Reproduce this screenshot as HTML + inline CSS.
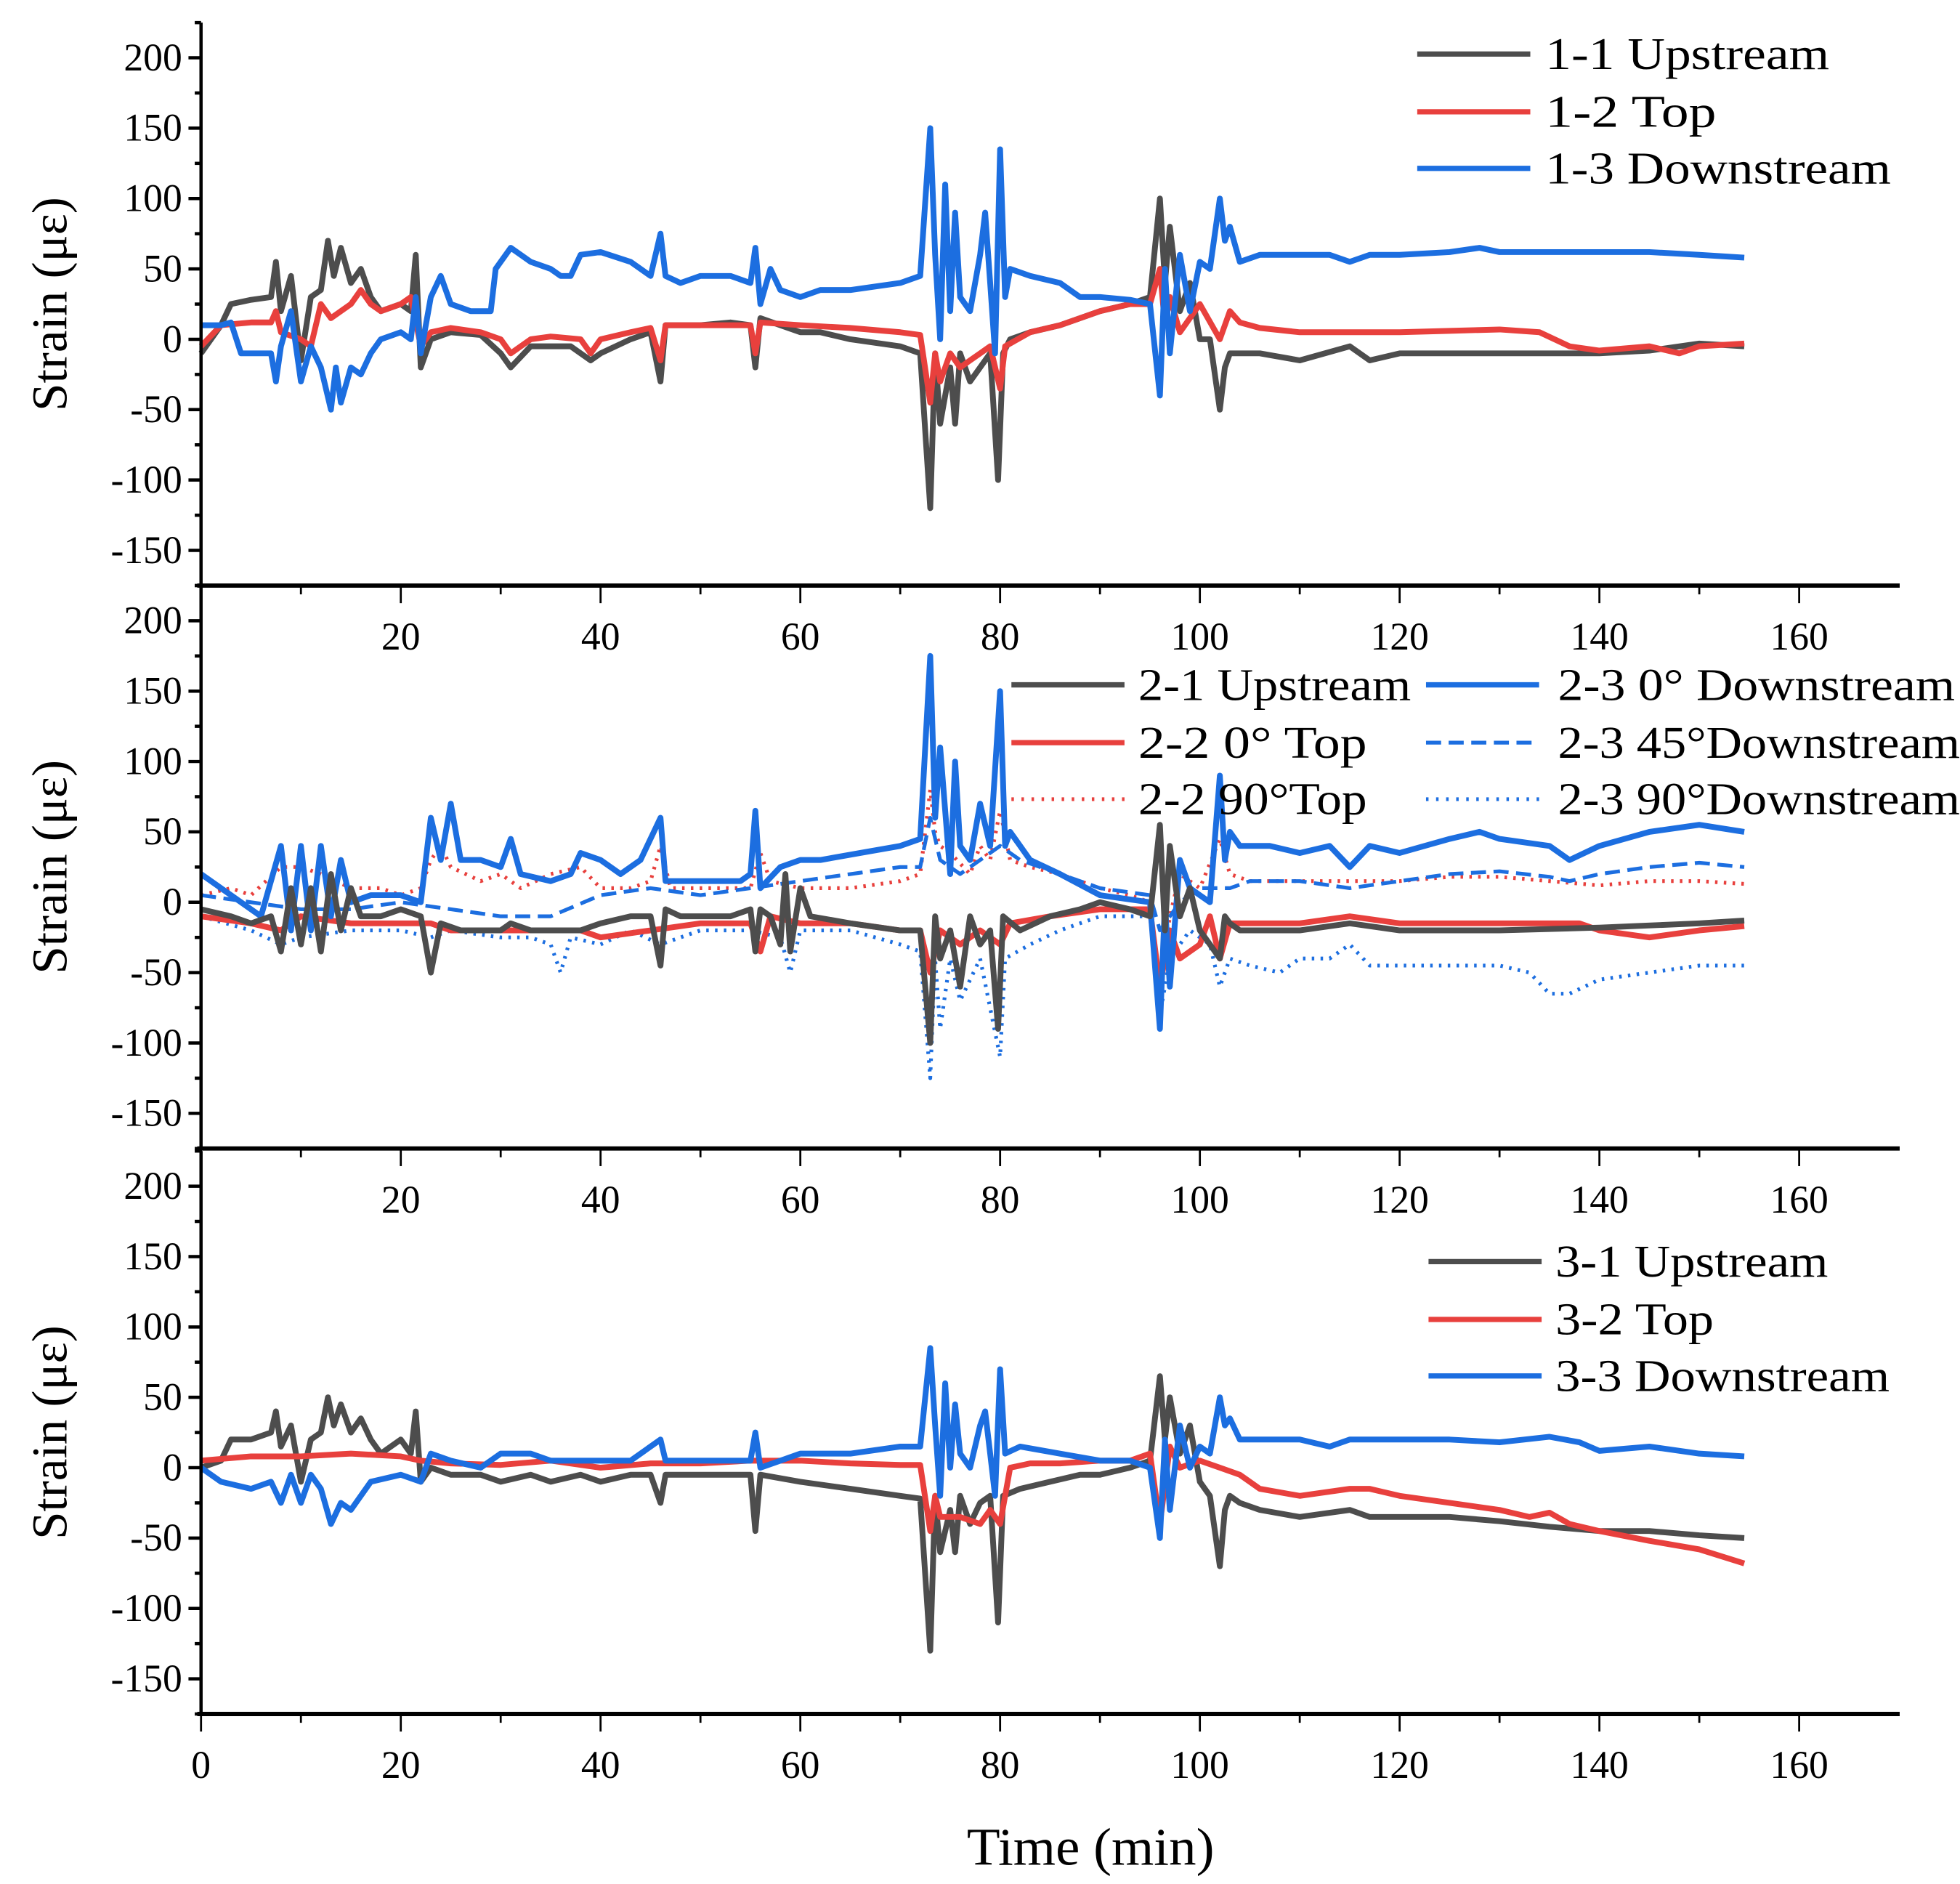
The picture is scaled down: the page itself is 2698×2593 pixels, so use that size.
<!DOCTYPE html>
<html><head><meta charset="utf-8"><style>
html,body{margin:0;padding:0;background:#fff}
svg{display:block}
text{font-family:"Liberation Serif","DejaVu Serif",serif;fill:#000}
</style></head><body>
<svg id="chart" width="2698" height="2593" viewBox="0 0 1560 1499.3" xmlns="http://www.w3.org/2000/svg"></svg>
<script>
const xTicks=[0,20,40,60,80,100,120,140,160];
const yTicks=[-150,-100,-50,0,50,100,150,200];
const s11=[[0,-10],[2,10],[3,25],[5,28],[7,30],[7.5,55],[8,20],[9,45],[10,-15],[11,30],[12,35],[12.7,70],[13.3,45],[14,65],[15,40],[16,50],[17,30],[18,20],[20,25],[21,20],[21.5,60],[22,-20],[23,0],[25,5],[28,3],[30,-10],[31,-20],[33,-5],[35,-5],[37,-5],[39,-15],[40,-10],[43,0],[45,5],[46,-30],[46.5,10],[50,10],[53,12],[55,10],[55.5,-20],[56,15],[58,10],[60,5],[62,5],[65,0],[70,-5],[72,-10],[73,-120],[73.5,-10],[74,-60],[75,-20],[75.5,-60],[76,-10],[77,-30],[78,-20],[79,-10],[79.8,-100],[80.3,-10],[81,0],[83,5],[86,10],[90,20],[93,25],[95,30],[96,100],[96.5,40],[97,80],[98,20],[99,40],[100,0],[101,0],[102,-50],[102.5,-20],[103,-10],[104,-10],[106,-10],[110,-15],[115,-5],[117,-15],[120,-10],[125,-10],[130,-10],[135,-10],[140,-10],[145,-8],[150,-3],[154.5,-5]];
const s12=[[0,-5],[2,10],[5,12],[7,12],[7.5,20],[8,5],[10,0],[11,-5],[12,25],[13,15],[14,20],[15,25],[16,35],[17,25],[18,20],[20,25],[21,30],[22,-5],[23,5],[25,8],[28,5],[30,0],[31,-10],[33,0],[35,2],[38,0],[39,-10],[40,0],[43,5],[45,8],[46,-15],[46.5,10],[50,10],[55,10],[55.5,-10],[56,12],[60,10],[65,8],[70,5],[72,3],[73,-45],[73.5,-10],[74,-30],[75,-10],[76,-20],[77,-15],[78,-10],[79,-5],[80,-35],[80.5,-5],[83,5],[86,10],[90,20],[93,25],[95,25],[96,50],[96.5,10],[97,30],[98,5],[100,25],[102,0],[103,20],[104,12],[106,8],[110,5],[115,5],[120,5],[125,6],[130,7],[134,5],[137,-5],[140,-8],[145,-5],[148,-10],[150,-5],[154.5,-3]];
const s13=[[0,10],[2,10],[3,12],[4,-10],[5,-10],[7,-10],[7.5,-30],[8,-5],[9,20],[10,-30],[11,-5],[12,-20],[13,-50],[13.5,-20],[14,-45],[15,-20],[16,-25],[17,-10],[18,0],[20,5],[21,0],[21.5,30],[22,-10],[23,30],[24,45],[25,25],[27,20],[29,20],[29.5,50],[31,65],[33,55],[35,50],[36,45],[37,45],[38,60],[40,62],[43,55],[45,45],[46,75],[46.5,45],[48,40],[50,45],[53,45],[55,40],[55.5,65],[56,25],[57,50],[58,35],[60,30],[62,35],[65,35],[70,40],[72,45],[73,150],[73.5,60],[74,0],[74.5,110],[75,20],[75.5,90],[76,30],[77,20],[78,60],[78.5,90],[79,40],[79.5,-10],[80,135],[80.5,30],[81,50],[83,45],[86,40],[88,30],[90,30],[93,28],[95,25],[96,-40],[96.5,50],[97,-10],[98,60],[99,20],[100,55],[101,50],[102,100],[102.5,70],[103,80],[104,55],[106,60],[110,60],[113,60],[115,55],[117,60],[120,60],[125,62],[128,65],[130,62],[135,62],[140,62],[145,62],[150,60],[154.5,58]];
const s21=[[0,-5],[3,-10],[5,-15],[7,-10],[8,-35],[9,10],[10,-30],[11,10],[12,-35],[13,20],[14,-20],[15,10],[16,-10],[18,-10],[20,-5],[22,-10],[23,-50],[24,-15],[26,-20],[28,-20],[30,-20],[31,-15],[33,-20],[35,-20],[38,-20],[40,-15],[43,-10],[45,-10],[46,-45],[46.5,-5],[48,-10],[50,-10],[53,-10],[55,-5],[55.5,-35],[56,-5],[57,-10],[58,-30],[58.5,20],[59,-35],[60,10],[61,-10],[65,-15],[70,-20],[72,-20],[73,-100],[73.5,-10],[74,-40],[75,-20],[76,-60],[77,-10],[78,-30],[79,-20],[79.8,-90],[80.3,-10],[82,-20],[85,-10],[88,-5],[90,0],[93,-5],[95,-10],[96,55],[96.5,-20],[97,40],[98,-10],[99,10],[100,-20],[101,-30],[102,-40],[102.5,-10],[103,-15],[104,-20],[106,-20],[110,-20],[115,-15],[120,-20],[130,-20],[140,-18],[150,-15],[154.5,-13]];
const s22a=[[0,-10],[5,-15],[8,-20],[10,-10],[15,-15],[20,-15],[23,-15],[25,-20],[30,-20],[35,-20],[38,-20],[40,-25],[45,-20],[50,-15],[55,-15],[56,-35],[57,-10],[60,-15],[65,-15],[70,-20],[72,-20],[73,-50],[74,-20],[76,-30],[78,-20],[80,-30],[81,-15],[85,-10],[90,-5],[95,-5],[96,-60],[97,-20],[98,-40],[100,-30],[101,-10],[102,-40],[103,-15],[105,-15],[110,-15],[115,-10],[120,-15],[130,-15],[138,-15],[140,-20],[145,-25],[150,-20],[154.5,-17]];
const s22b=[[0,5],[3,10],[5,5],[8,25],[10,25],[12,20],[15,10],[18,10],[20,5],[22,10],[23,30],[24,40],[25,25],[28,15],[30,20],[32,10],[35,20],[38,25],[40,10],[43,10],[45,15],[46,40],[47,10],[50,10],[55,10],[56,35],[57,15],[60,10],[65,10],[70,15],[72,20],[73,80],[73.5,50],[74,40],[75,35],[77,20],[78,40],[79,30],[80,65],[81,30],[83,25],[86,20],[90,10],[93,5],[95,0],[96,-60],[97,-10],[98,20],[100,10],[102,45],[103,20],[105,15],[110,15],[115,15],[120,15],[125,18],[130,18],[135,15],[140,12],[145,15],[150,15],[154.5,13]];
const s23a=[[0,20],[2,10],[4,0],[6,-10],[8,40],[9,-20],[10,40],[11,-20],[12,40],[13,-10],[14,30],[15,0],[17,5],[20,5],[22,0],[23,60],[24,30],[25,70],[26,30],[28,30],[30,25],[31,45],[32,20],[35,15],[37,20],[38,35],[40,30],[42,20],[44,30],[46,60],[46.5,15],[48,15],[50,15],[54,15],[55,20],[55.5,65],[56,10],[58,25],[60,30],[62,30],[66,35],[70,40],[72,45],[73,175],[73.5,60],[74,110],[75,20],[75.5,100],[76,40],[77,30],[78,70],[79,40],[80,150],[80.5,40],[81,50],[83,30],[86,20],[90,5],[95,0],[96,-90],[96.5,0],[97,-60],[98,30],[99,10],[100,5],[101,0],[102,90],[102.5,30],[103,50],[104,40],[107,40],[110,35],[113,40],[115,25],[117,40],[120,35],[125,45],[128,50],[130,45],[135,40],[137,30],[140,40],[145,50],[150,55],[154.5,50]];
const s23b=[[0,5],[5,0],[10,-5],[15,-5],[20,0],[25,-5],[30,-10],[35,-10],[40,5],[45,10],[50,5],[55,10],[60,15],[65,20],[70,25],[72,25],[73,60],[74,30],[76,20],[78,30],[80,40],[82,30],[86,20],[90,10],[95,5],[96,-20],[98,0],[100,10],[103,10],[105,15],[110,15],[115,10],[120,15],[125,20],[130,22],[135,18],[137,15],[140,20],[145,25],[150,28],[154.5,25]];
const s23c=[[0,-10],[5,-20],[8,-30],[10,-25],[15,-20],[20,-20],[23,-25],[25,-20],[30,-25],[33,-25],[35,-30],[36,-50],[37,-25],[40,-30],[43,-20],[46,-30],[50,-20],[55,-20],[58,-25],[59,-50],[60,-20],[65,-20],[70,-30],[72,-35],[73,-125],[73.5,-40],[74,-90],[75,-40],[76,-70],[78,-40],[80,-110],[80.5,-40],[83,-30],[86,-20],[90,-10],[95,-10],[96,-80],[97,-40],[99,-20],[101,-30],[102,-60],[103,-40],[105,-45],[108,-50],[110,-40],[113,-40],[115,-30],[117,-45],[120,-45],[125,-45],[130,-45],[133,-50],[135,-65],[137,-65],[140,-55],[145,-50],[150,-45],[154.5,-45]];
const s31=[[0,0],[2,5],[3,20],[5,20],[7,25],[7.5,40],[8,15],[9,30],[10,-10],[11,20],[12,25],[12.7,50],[13.3,30],[14,45],[15,25],[16,35],[17,20],[18,10],[20,20],[21,10],[21.5,40],[22,-10],[23,0],[25,-5],[28,-5],[30,-10],[33,-5],[35,-10],[38,-5],[40,-10],[43,-5],[45,-5],[46,-25],[46.5,-5],[50,-5],[55,-5],[55.5,-45],[56,-5],[60,-10],[65,-15],[70,-20],[72,-22],[73,-130],[73.5,-20],[74,-60],[75,-30],[75.5,-60],[76,-20],[77,-40],[78,-25],[79,-20],[79.8,-110],[80.3,-20],[82,-15],[85,-10],[88,-5],[90,-5],[93,0],[95,5],[96,65],[96.5,20],[97,50],[98,10],[99,30],[100,-10],[101,-20],[102,-70],[102.5,-30],[103,-20],[104,-25],[106,-30],[110,-35],[115,-30],[117,-35],[120,-35],[125,-35],[130,-38],[135,-42],[140,-45],[145,-45],[150,-48],[154.5,-50]];
const s32=[[0,5],[5,8],[10,8],[15,10],[20,8],[22,5],[25,3],[30,2],[35,5],[40,0],[45,3],[50,3],[55,5],[60,5],[65,3],[70,2],[72,2],[73,-45],[73.5,-20],[74,-35],[76,-35],[78,-40],[79,-30],[80,-40],[81,0],[83,3],[86,3],[90,5],[93,5],[95,10],[96,-40],[97,15],[98,0],[100,5],[102,0],[104,-5],[106,-15],[110,-20],[115,-15],[117,-15],[120,-20],[125,-25],[130,-30],[133,-35],[135,-32],[137,-40],[140,-45],[145,-52],[150,-58],[154.5,-68]];
const s33=[[0,0],[2,-10],[5,-15],[7,-10],[8,-25],[9,-5],[10,-25],[11,-5],[12,-15],[13,-40],[14,-25],[15,-30],[17,-10],[20,-5],[22,-10],[23,10],[25,5],[28,0],[30,10],[33,10],[35,5],[38,5],[40,5],[43,5],[46,20],[46.5,5],[50,5],[55,5],[55.5,25],[56,0],[58,5],[60,10],[65,10],[70,15],[72,15],[73,85],[73.5,30],[74,-20],[74.5,60],[75,0],[75.5,45],[76,10],[77,0],[78,30],[78.5,40],[79,10],[79.5,-20],[80,70],[80.5,10],[82,15],[86,10],[90,5],[93,5],[95,0],[96,-50],[96.5,20],[97,-30],[98,30],[99,0],[100,15],[101,10],[102,50],[102.5,30],[103,35],[104,20],[106,20],[110,20],[113,15],[115,20],[120,20],[125,20],[130,18],[135,22],[138,18],[140,12],[145,15],[150,10],[154.5,8]];

const NS='http://www.w3.org/2000/svg';
const svg=document.getElementById('chart');
const X0=160,XR=1512,PX=(1432-160)/160;
const GRAY='#4d4d4d',RED='#e8403d',BLUE='#1c6ee0';
function mk(tag,attrs,parent){const e=document.createElementNS(NS,tag);for(const k in attrs)e.setAttribute(k,attrs[k]);(parent||svg).appendChild(e);return e;}
function xs(t){return X0+t*PX;}
const panels=[
 {top:18,name:'panel-1',showZero:false,series:[[s11,GRAY,'','line-1-1-upstream'],[s12,RED,'','line-1-2-top'],[s13,BLUE,'','line-1-3-downstream']],
  legend:[[1128,1230,43,GRAY,'','1-1  Upstream',226],[1128,1230,89,RED,'','1-2  Top',136],[1128,1230,134,BLUE,'','1-3  Downstream',275]]},
 {top:466,name:'panel-2',showZero:false,series:[[s22b,RED,'2 5','line-2-2-90-top'],[s23b,BLUE,'12 6','line-2-3-45-downstream'],[s23c,BLUE,'2 5','line-2-3-90-downstream'],[s22a,RED,'','line-2-2-0-top'],[s23a,BLUE,'','line-2-3-0-downstream'],[s21,GRAY,'','line-2-1-upstream']],
  legend:[[805,906,545,GRAY,'','2-1 Upstream',217],[805,906,591,RED,'','2-2 0°  Top',182],[805,906,636,RED,'2 6','2-2 90°Top',182],[1135,1240,545,BLUE,'','2-3 0° Downstream',316],[1135,1240,591,BLUE,'12 6','2-3 45°Downstream',320],[1135,1240,636,BLUE,'2 6','2-3 90°Downstream',320]]},
 {top:916,name:'panel-3',showZero:true,series:[[s31,GRAY,'','line-3-1-upstream'],[s32,RED,'','line-3-2-top'],[s33,BLUE,'','line-3-3-downstream']],
  legend:[[1137,1238,1004,GRAY,'','3-1 Upstream',217],[1137,1238,1050,RED,'','3-2 Top',126],[1137,1238,1095,BLUE,'','3-3 Downstream',266]]}
];
panels.forEach((p,pi)=>{
 const g=mk('g',{});
 
 
 const ys=v=>p.top+(225-v)*1.12;
 const bot=p.top+448;
 p.series.forEach(s=>{
  const d=s[0].map((pt,i)=>(i?'L':'M')+xs(pt[0]).toFixed(1)+','+ys(pt[1]).toFixed(1)).join(' ');
  const path=mk('path',{d:d,fill:'none',stroke:s[1],'stroke-width':s[2]?3:4.6,'stroke-linejoin':'round'},g);
  if(s[2])path.setAttribute('stroke-dasharray',s[2]);
  
  
 });
 const ya=mk('line',{x1:X0,y1:p.top,x2:X0,y2:bot,stroke:'#000','stroke-width':2.6},g);
 
 
 for(let v=-175;v<=225;v+=25){
  const major=v%50===0;
  mk('line',{x1:X0-(major?10:5),y1:ys(v),x2:X0,y2:ys(v),stroke:'#000','stroke-width':2.6},g);
 }
 yTicks.forEach(v=>{
  const t=mk('text',{x:X0-15,y:ys(v)+10,'text-anchor':'end','font-size':31},g);
  t.textContent=v;
  
  
 });
 const yt=mk('text',{x:0,y:0,'text-anchor':'middle','font-size':40,transform:'translate(53,'+(ys(25))+') rotate(-90)'},g);
 yt.textContent='Strain (με)';
 
 
 const xa=mk('line',{x1:X0-3,y1:bot,x2:XR,y2:bot,stroke:'#000','stroke-width':3.4},g);
 
 
 for(let t=0;t<=160;t+=10){
  const major=t%20===0;
  mk('line',{x1:xs(t),y1:bot,x2:xs(t),y2:bot+(major?14:7),stroke:'#000','stroke-width':1.6},g);
 }
 xTicks.forEach(t=>{
  if(t===0&&!p.showZero)return;
  const tx=mk('text',{x:xs(t),y:bot+51,'text-anchor':'middle','font-size':31},g);
  tx.textContent=t;
  
  
 });
 p.legend.forEach(l=>{
  const lg=mk('g',{},g);
  
  
  const ln=mk('line',{x1:l[0],y1:l[2],x2:l[0]+90,y2:l[2],stroke:l[3],'stroke-width':l[4]?3:4.2},lg);
  if(l[4])ln.setAttribute('stroke-dasharray',l[4]);
  const tx=mk('text',{x:l[1],y:l[2]+12,'font-size':36,textLength:l[6],lengthAdjust:'spacingAndGlyphs'},lg);
  tx.textContent=l[5];
 });
});
const xt=mk('text',{x:868,y:1484,'text-anchor':'middle','font-size':42,textLength:197,lengthAdjust:'spacingAndGlyphs'});
xt.textContent='Time (min)';


</script>
</body></html>
